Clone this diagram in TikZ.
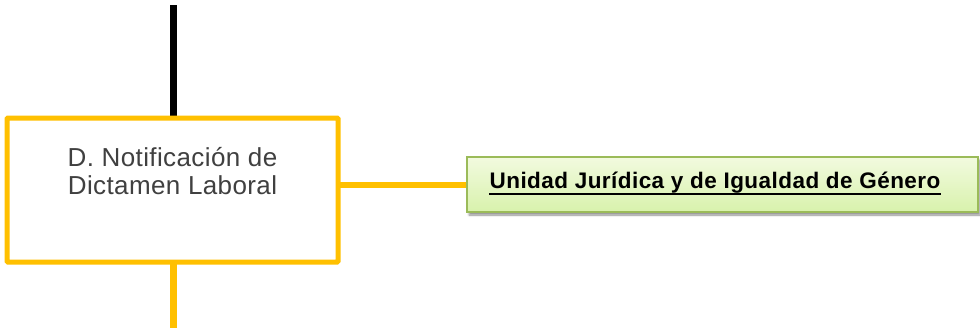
\documentclass[tikz,border=0pt]{standalone}
\usepackage{fontspec}
\setmainfont{Liberation Sans}
\newfontfamily\procfont[LetterSpace=1.5]{Liberation Sans}
\newfontfamily\unitfont[LetterSpace=2]{Liberation Sans}
\usetikzlibrary{shadows.blur}
\definecolor{ambar}{HTML}{FFC000}
\definecolor{txtgray}{HTML}{404040}
\definecolor{olivegreen}{HTML}{9BBB59}
\definecolor{greentop}{HTML}{F2FADF}
\definecolor{greenbot}{HTML}{D8F2AC}
\tikzset{
  procbox/.style={draw=ambar, line width=5pt, fill=white, rounded corners=1pt,
    minimum width=331pt, minimum height=144pt, inner sep=0pt},
  unitbox/.style={draw=olivegreen, line width=1.8pt, top color=greentop, bottom color=greenbot,
    minimum width=511pt, minimum height=55pt, inner sep=0pt,
    blur shadow={shadow xshift=2pt, shadow yshift=-3pt, shadow blur steps=6, shadow opacity=45}},
  yconn/.style={draw=ambar, line width=7pt},
  bconn/.style={draw=black, line width=7pt},
  hconn/.style={draw=ambar, line width=6pt},
  proctext/.style={anchor=base, inner sep=0pt, text=txtgray, font=\procfont\fontsize{26}{28}\selectfont},
  unittext/.style={anchor=base, inner sep=0pt, text=black, font=\unitfont\fontsize{22.5}{26}\selectfont\bfseries}
}
\begin{document}
\begin{tikzpicture}[x=1pt,y=-1pt]
\useasboundingbox (0,0) rectangle (980,327);
\coordinate (topend) at (173.5,5);
\coordinate (botend) at (173.5,330);
\node[unitbox] (unit) at (722.5,184.5) {};
\draw[hconn] (unit.west -| 338,0) -- (unit.west);
\draw[bconn] (topend) -- (173.5,118);
\draw[yconn] (173.5,262) -- (botend);
\node[procbox] (proc) at (172.5,190) {};
\node[proctext] (l1) at (172.5,166) {D. Notificación de};
\node[proctext] (l2) at (172.5,194) {Dictamen Laboral};
\node[unittext] (ut) at (715,188) {Unidad Jurídica y de Igualdad de Género};
\draw[line width=2pt] ([yshift=-6pt]ut.base west) -- ([yshift=-6pt]ut.base east);
\end{tikzpicture}
\end{document}
